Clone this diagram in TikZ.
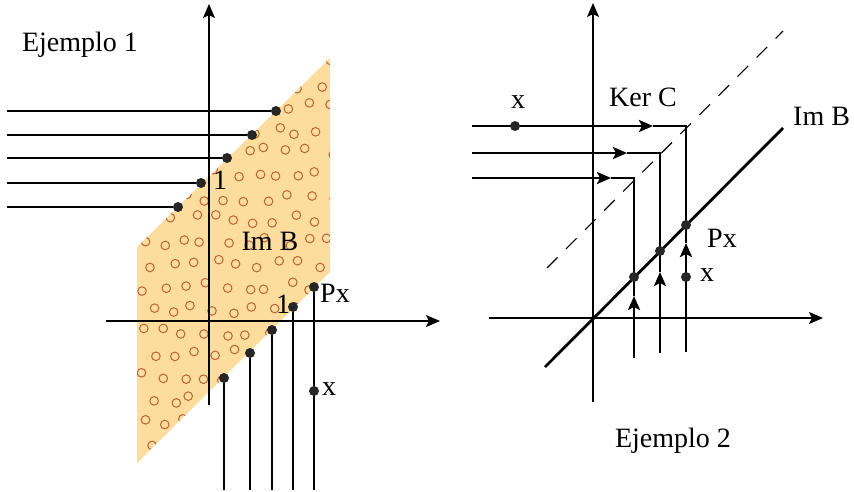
\documentclass[tikz,border=0pt]{standalone}
\usepackage{fontspec}
\setmainfont{Liberation Serif}
\usetikzlibrary{arrows.meta}
\definecolor{planefill}{RGB}{253,221,158}
\definecolor{ringcolor}{RGB}{185,100,50}
\tikzstyle{axis} = [
    line width=1.1pt,
    -{Stealth[length=14pt,width=12pt,inset=3pt]}
]
\tikzstyle{ray} = [line width=2.8pt]
\tikzstyle{rayarrow} = [
    line width=2.8pt,
    -{Stealth[length=14pt,width=12pt,inset=3pt]}
]
\tikzstyle{dot} = [
    circle,
    fill=black!85,
    inner sep=0pt,
    minimum size=10pt
]
\tikzstyle{lbl} = [font=\fontsize{28}{32}\selectfont, inner sep=1pt]

\begin{document}
\begin{tikzpicture}[x=1pt, y=-1pt]
\useasboundingbox (0,0) rectangle (854,491);

% Ejemplo 1: plane Im B
\begin{scope}
\clip (137,247) -- (330,58) -- (330,272) -- (137,463) -- cycle;
\fill[planefill] (137,58) rectangle (330,463);
\pgfmathsetseed{11}
\foreach \i in {0,...,9} {
  \foreach \j in {0,...,18} {
    \pgfmathsetmacro{\cx}{141 + 21*\i + mod(\j,2)*10 + 5*rand}
    \pgfmathsetmacro{\cy}{62 + 22.5*\j + 5*rand}
    \draw[ringcolor, line width=1pt] (\cx,\cy) circle[radius=4.3];
  }
}
\end{scope}

\coordinate (xa1) at (106,321);
\coordinate (xb1) at (440,321);
\coordinate (ya1) at (209,405);
\coordinate (yb1) at (209,4);
\draw[axis] (xa1) -- (xb1);
\draw[axis] (ya1) -- (yb1);

% horizontal lines onto the plane
\foreach \n/\px/\py in {1/276/111, 2/252/135, 3/227/158, 4/201/183, 5/178/207} {
  \node (h\n) [dot] at (\px,\py) {};
  \coordinate (hs\n) at (7,\py);
  \draw[ray] (hs\n) -- (h\n);
}

% vertical lines onto the plane
\foreach \n/\px/\py in {1/224/378, 2/250/353, 3/272/330, 4/293/307, 5/314/287} {
  \node (v\n) [dot] at (\px,\py) {};
  \coordinate (vs\n) at (\px,490);
  \draw[ray] (vs\n) -- (v\n);
}
\node (x1) [dot] at (314,391) {};

\node (ej1) [lbl] at (80,45) {Ejemplo 1};
\node (imb1) [lbl] at (270,241) {Im B};
\node (one1) [lbl] at (220,180) {1};
\node (one2) [lbl] at (283,304) {1};
\node (px1) [lbl, anchor=west] at (319,293) {Px};
\node (xl1) [lbl, anchor=west] at (321,389) {x};

% Ejemplo 2
\coordinate (xa2) at (489,318);
\coordinate (xb2) at (823,318);
\coordinate (ya2) at (593,402);
\coordinate (yb2) at (593,3);
\draw[axis] (xa2) -- (xb2);
\draw[axis] (ya2) -- (yb2);

\coordinate (kera) at (547,268);
\coordinate (kerb) at (783,31);
\draw[line width=1.1pt, dash pattern=on 15pt off 12pt] (kera) -- (kerb);
\coordinate (ima) at (545,367);
\coordinate (imb) at (783,128);
\draw[ray] (ima) -- (imb);

\foreach \n/\cx/\cy/\hx/\vy/\by in {1/686/126/653/243/352, 2/660/153/627/272/353, 3/634/178/611/296/358} {
  \coordinate (s\n) at (472,\cy);
  \coordinate (ha\n) at (\hx,\cy);
  \coordinate (c\n) at (\cx,\cy);
  \coordinate (b\n) at (\cx,\by);
  \coordinate (va\n) at (\cx,\vy);
  \draw[rayarrow] (s\n) -- (ha\n);
  \draw[ray] (ha\n) -- (c\n) -- (va\n);
  \draw[rayarrow] (b\n) -- (va\n);
}
\node (p1) [dot] at (686,225) {};
\node (p2) [dot] at (660,251) {};
\node (p3) [dot] at (634,277) {};
\node (x2) [dot] at (686,277) {};
\node (x3) [dot] at (515,126) {};

\node (xl2) [lbl] at (518,102) {x};
\node (ker) [lbl] at (643,97) {Ker C};
\node (imb2) [lbl, anchor=west] at (792,116) {Im B};
\node (px2) [lbl] at (722,238) {Px};
\node (xl3) [lbl] at (707,275) {x};
\node (ej2) [lbl] at (673,441) {Ejemplo 2};
\end{tikzpicture}
\end{document}
